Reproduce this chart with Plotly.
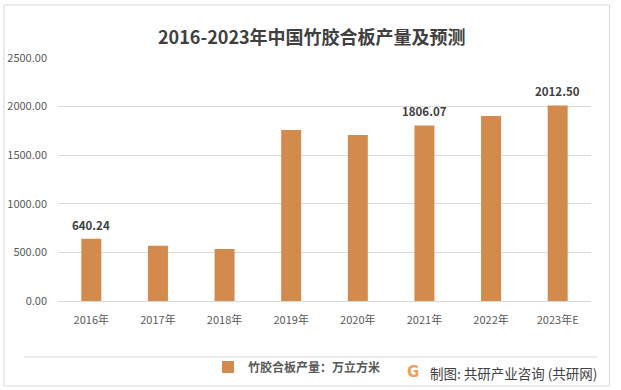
import plotly.graph_objects as go

years = ["2016年", "2017年", "2018年", "2019年", "2020年", "2021年", "2022年", "2023年E"]
output = [640.24, 568, 535, 1760, 1708, 1806.07, 1904, 2012.50]
labeled = ["2016年", "2021年", "2023年E"]

title = "2016-2023年中国竹胶合板产量及预测"
series_name = "竹胶合板产量：万立方米"
source = "制图: 共研产业咨询 (共研网)"

W, H = 621, 390
L, R, T, B = 58, 30, 58, 89
pw, ph = W - L - R, H - T - B

def px(x):
    return (x - L) / pw

def py(y):
    return (H - B - y) / ph

FONT = "Noto Sans CJK SC"
bar_color = "#D38B4D"
text_color = "#595959"

fig = go.Figure()
fig.add_trace(go.Bar(
    x=years, y=output, name=series_name,
    marker=dict(color=bar_color, line=dict(width=0)),
    width=0.3, showlegend=True,
))

annotations = []
for yr, v in zip(years, output):
    if yr in labeled:
        annotations.append(dict(
            x=yr, y=v, xref="x", yref="y", text=f"{v:.2f}",
            showarrow=False, yanchor="bottom", yshift=4,
            font=dict(family=FONT, size=11.5, color="#404040", weight=600),
        ))

annotations.append(dict(
    x=px(312), y=py(36), xref="paper", yref="paper", text=title,
    showarrow=False, xanchor="center", yanchor="middle",
    font=dict(family=FONT, size=18, color="#404040", weight="bold"),
))
annotations.append(dict(
    x=px(428), y=py(373), xref="paper", yref="paper", text=source,
    showarrow=False, xanchor="left", yanchor="middle",
    font=dict(family=FONT, size=13.5, color="#404040"),
))
annotations.append(dict(
    x=px(413), y=py(372), xref="paper", yref="paper", text="<b>G</b>",
    showarrow=False, xanchor="center", yanchor="middle",
    font=dict(family="DejaVu Sans", size=15, color="#F0A05A"),
))

shapes = [
    dict(type="rect", xref="paper", yref="paper",
         x0=px(4), x1=px(609.5), y0=py(386), y1=py(5),
         line=dict(color="#D9D9D9", width=1), layer="below"),
    dict(type="line", xref="paper", yref="paper",
         x0=px(24), x1=px(597), y0=py(357), y1=py(357),
         line=dict(color="#D9D9D9", width=1), layer="below"),
]

fig.update_layout(
    width=W, height=H,
    margin=dict(l=L, r=R, t=T, b=B, pad=0, autoexpand=False),
    paper_bgcolor="white", plot_bgcolor="white",
    font=dict(family=FONT, size=11, color=text_color),
    bargap=0.7,
    showlegend=True,
    legend=dict(
        xref="container", yref="container",
        x=208 / W, y=1 - 367 / H, xanchor="left", yanchor="middle",
        orientation="h", bgcolor="rgba(0,0,0,0)",
        font=dict(family=FONT, size=12, color=text_color, weight="bold"),
        itemwidth=30,
    ),
    annotations=annotations,
    shapes=shapes,
)
fig.update_xaxes(
    type="category", showgrid=False, showline=True, linecolor="#D9D9D9", linewidth=1,
    ticks="", ticklabelstandoff=9,
    tickfont=dict(family=FONT, size=11, color=text_color),
)
fig.update_yaxes(
    range=[0, 2500], dtick=500, tickformat=".2f",
    showgrid=True, gridcolor="#D9D9D9", gridwidth=1, zeroline=False,
    showline=False, ticks="", ticklabelstandoff=10,
    tickfont=dict(family=FONT, size=11, color=text_color),
)

fig.write_html("out.html", config={"displayModeBar": False},
               post_script="document.body.style.margin='0';")
